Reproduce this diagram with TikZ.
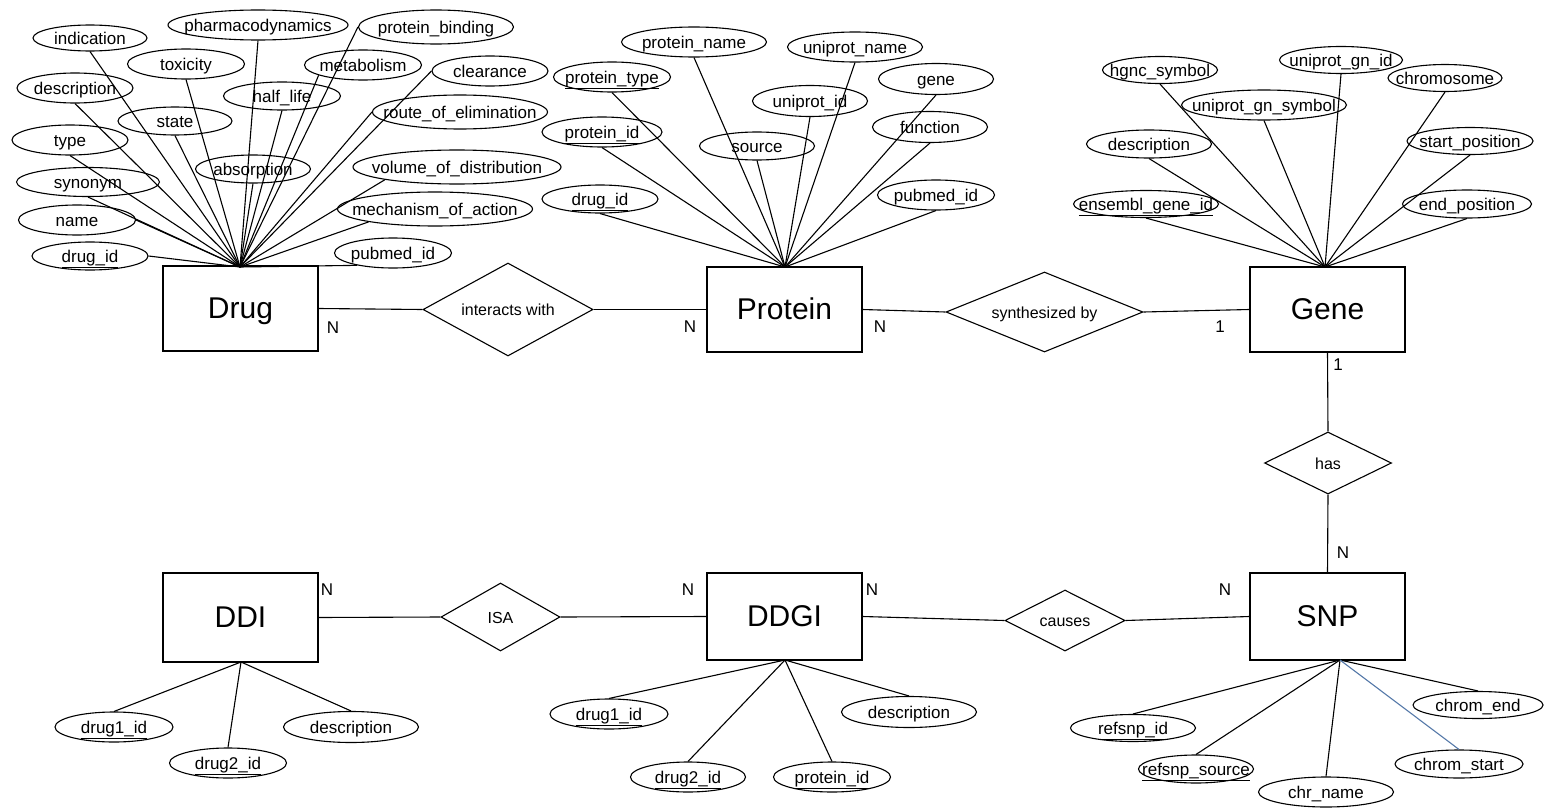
\documentclass[tikz,border=0pt]{standalone}
\usepackage{fontspec}
\setmainfont{Liberation Sans}
\usetikzlibrary{shapes.geometric}
\definecolor{linkblue}{RGB}{84,120,168}
\begin{document}
\begin{tikzpicture}[x=1pt,y=-1pt,
  attr/.style={draw, ellipse, line width=1.1pt, inner sep=-80pt, text height=13pt, text depth=0pt, font=\fontsize{17}{19}\selectfont},
  ent/.style={draw, rectangle, line width=1.3pt, minimum width=155pt, minimum height=85pt, inner sep=0pt, text height=21.5pt, text depth=2pt, font=\fontsize{30}{34}\selectfont},
  rel/.style={draw, diamond, line width=1.1pt, inner sep=-80pt, text height=12.5pt, text depth=0pt, font=\fontsize{16}{18}\selectfont},
  conn/.style={line width=1.1pt},
  card/.style={font=\fontsize{17}{19}\selectfont, inner sep=0pt}
]
\useasboundingbox (0,0) rectangle (1545,808);

% ---------- entities ----------
\node[ent] (drug) at (240.5,308.5) {Drug};
\node[ent] (protein) at (784.5,309.5) {Protein};
\node[ent] (gene) at (1327.5,309.5) {Gene};
\node[ent, minimum height=87pt] (snp) at (1327.5,616.5) {SNP};
\node[ent, minimum height=87pt] (ddgi) at (784.5,616.5) {DDGI};
\node[ent, minimum height=89pt] (ddi) at (240.5,617.5) {DDI};

% ---------- relationships ----------
\node[rel, minimum width=170pt, minimum height=93pt] (interacts) at (508,309.5) {interacts with};
\node[rel, minimum width=197pt, minimum height=80pt] (synth) at (1044.5,312) {synthesized by};
\node[rel, minimum width=127pt, minimum height=62pt] (has) at (1328,463) {has};
\node[rel, minimum width=120pt, minimum height=61pt] (causes) at (1065,620.5) {causes};
\node[rel, minimum width=119pt, minimum height=68pt] (isa) at (500.5,617) {ISA};

\draw[conn] (drug.east) -- (interacts.west);
\draw[conn] (interacts.east) -- (protein.west);
\draw[conn] (protein.east) -- (synth.west);
\draw[conn] (synth.east) -- (gene.west);
\draw[conn] (gene.south) -- (has.north);
\draw[conn] (has.south) -- (snp.north);
\draw[conn] (snp.west) -- (causes.east);
\draw[conn] (causes.west) -- (ddgi.east);
\draw[conn] (ddgi.west) -- (isa.east);
\draw[conn] (isa.west) -- (ddi.east);

% ---------- cardinalities ----------
\node[card] (c1) at (333,328) {N};
\node[card] (c2) at (690,327) {N};
\node[card] (c3) at (880,327) {N};
\node[card] (c4) at (1220,327) {1};
\node[card] (c5) at (1338,365) {1};
\node[card] (c6) at (1343,553) {N};
\node[card] (c7) at (1225,590) {N};
\node[card] (c8) at (872,590) {N};
\node[card] (c9) at (688,590) {N};
\node[card] (c10) at (327,590) {N};

% ---------- Drug attributes ----------
\coordinate (dc) at (240,267);
\node[attr, minimum width=114pt, minimum height=26pt] (indication) at (90,38) {indication};
\node[attr, minimum width=180pt, minimum height=30pt] (pharma) at (258,25) {pharmacodynamics};
\node[attr, minimum width=117pt, minimum height=30pt] (toxicity) at (186,64) {toxicity};
\node[attr, minimum width=116pt, minimum height=30pt] (ddesc) at (75,88) {description};
\node[attr, minimum width=117pt, minimum height=28pt] (halflife) at (282,96) {half\_life};
\node[attr, minimum width=114pt, minimum height=28pt] (state) at (175,121) {state};
\node[attr, minimum width=116pt, minimum height=30pt] (type) at (70,140) {type};
\node[attr, minimum width=115pt, minimum height=28pt] (absorption) at (253,169) {absorption};
\node[attr, minimum width=143pt, minimum height=29pt] (synonym) at (88,182) {synonym};
\node[attr, minimum width=117pt, minimum height=30pt] (name) at (77,220) {name};
\node[attr, minimum width=116pt, minimum height=28pt] (ddrugid) at (90,256) {\underline{drug\_id}};
\node[attr, minimum width=155pt, minimum height=34pt] (pbinding) at (436,27) {protein\_binding};
\node[attr, minimum width=117pt, minimum height=30pt] (metabolism) at (363,65) {metabolism};
\node[attr, minimum width=116pt, minimum height=30pt] (clearance) at (490,71) {clearance};
\node[attr, minimum width=175pt, minimum height=34pt] (route) at (460,112) {route\_of\_elimination};
\node[attr, minimum width=208pt, minimum height=34pt] (vod) at (457,167) {volume\_of\_distribution};
\node[attr, minimum width=195pt, minimum height=34pt] (moa) at (435,209) {mechanism\_of\_action};
\node[attr, minimum width=117pt, minimum height=30pt] (dpubmed) at (393,253) {pubmed\_id};

\foreach \a in {indication,pharma,toxicity,ddesc,halflife,state,type,absorption,synonym}
  \draw[conn] (dc) -- (\a.south);
\draw[conn] (dc) -- (name.east);
\draw[conn] (dc) -- (ddrugid.east);
\draw[conn] (dc) -- (pbinding.west);
\draw[conn] (dc) -- (metabolism.193);
\draw[conn] (dc) -- (clearance.west);
\draw[conn] (dc) -- (route.west);
\draw[conn] (dc) -- (vod.190);
\draw[conn] (dc) -- (moa.191);
\draw[conn] (dc) -- (dpubmed.199);

% ---------- Protein attributes ----------
\coordinate (pc) at (785,267);
\node[attr, minimum width=145pt, minimum height=30pt] (pname) at (694,42) {protein\_name};
\node[attr, minimum width=135pt, minimum height=30pt] (uname) at (855,47) {uniprot\_name};
\node[attr, minimum width=117pt, minimum height=30pt] (ptype) at (612,77) {\underline{protein\_type}};
\node[attr, minimum width=115pt, minimum height=31pt] (pgene) at (936,79) {gene};
\node[attr, minimum width=115pt, minimum height=31pt] (uid) at (810,101) {uniprot\_id};
\node[attr, minimum width=120pt, minimum height=30pt] (pid) at (602,132) {\underline{protein\_id}};
\node[attr, minimum width=115pt, minimum height=31pt] (pfunc) at (930,127) {function};
\node[attr, minimum width=115pt, minimum height=28pt] (psource) at (757,146) {source};
\node[attr, minimum width=116pt, minimum height=28pt] (pdrugid) at (600,199) {\underline{drug\_id}};
\node[attr, minimum width=117pt, minimum height=30pt] (ppubmed) at (936,195) {pubmed\_id};
\foreach \a in {pname,uname,ptype,pgene,uid,pid,pfunc,psource,pdrugid,ppubmed}
  \draw[conn] (pc) -- (\a.south);

% ---------- Gene attributes ----------
\coordinate (gc) at (1325,267);
\node[attr, minimum width=115pt, minimum height=27pt] (hgnc) at (1160,70) {hgnc\_symbol};
\node[attr, minimum width=123pt, minimum height=27pt] (ugnid) at (1341,60) {uniprot\_gn\_id};
\node[attr, minimum width=114pt, minimum height=27pt] (chromosome) at (1445,78) {chromosome};
\node[attr, minimum width=165pt, minimum height=30pt] (ugnsym) at (1264,105) {uniprot\_gn\_symbol};
\node[attr, minimum width=125pt, minimum height=28pt] (gdesc) at (1149,144) {description};
\node[attr, minimum width=126pt, minimum height=27pt] (startpos) at (1470,141) {start\_position};
\node[attr, minimum width=145pt, minimum height=27pt] (ensembl) at (1146,204) {\underline{ensembl\_gene\_id}};
\node[attr, minimum width=129pt, minimum height=28pt] (endpos) at (1467,204) {end\_position};
\foreach \a in {hgnc,ugnid,chromosome,ugnsym,gdesc,startpos,ensembl,endpos}
  \draw[conn] (gc) -- (\a.south);

% ---------- DDI attributes ----------
\coordinate (ic) at (241,662);
\node[attr, minimum width=118pt, minimum height=30pt] (ddi1) at (114,727) {\underline{drug1\_id}};
\node[attr, minimum width=135pt, minimum height=31pt] (ddidesc) at (351,727) {description};
\node[attr, minimum width=117pt, minimum height=30pt] (ddi2) at (228,763) {\underline{drug2\_id}};
\foreach \a in {ddi1,ddidesc,ddi2}
  \draw[conn] (ic) -- (\a.north);

% ---------- DDGI attributes ----------
\coordinate (gic) at (785,660);
\node[attr, minimum width=118pt, minimum height=30pt] (dg1) at (609,714) {\underline{drug1\_id}};
\node[attr, minimum width=135pt, minimum height=31pt] (dgdesc) at (909,712) {description};
\node[attr, minimum width=115pt, minimum height=30pt] (dg2) at (688,777) {\underline{drug2\_id}};
\node[attr, minimum width=117pt, minimum height=30pt] (dgprot) at (832,777) {\underline{protein\_id}};
\foreach \a in {dg1,dgdesc,dg2,dgprot}
  \draw[conn] (gic) -- (\a.north);

% ---------- SNP attributes ----------
\coordinate (sc) at (1340,660);
\node[attr, minimum width=130pt, minimum height=27pt] (chromend) at (1478,705) {chrom\_end};
\node[attr, minimum width=125pt, minimum height=27pt] (refsnpid) at (1133,728) {\underline{refsnp\_id}};
\node[attr, minimum width=128pt, minimum height=28pt] (chromstart) at (1459,764) {chrom\_start};
\node[attr, minimum width=115pt, minimum height=28pt] (refsnpsrc) at (1196,769) {\underline{refsnp\_source}};
\node[attr, minimum width=135pt, minimum height=30pt] (chrname) at (1326,792) {chr\_name};
\foreach \a in {chromend,refsnpid,refsnpsrc,chrname}
  \draw[conn] (sc) -- (\a.north);
\draw[conn, linkblue] (sc) -- (chromstart.north);
\end{tikzpicture}
\end{document}
